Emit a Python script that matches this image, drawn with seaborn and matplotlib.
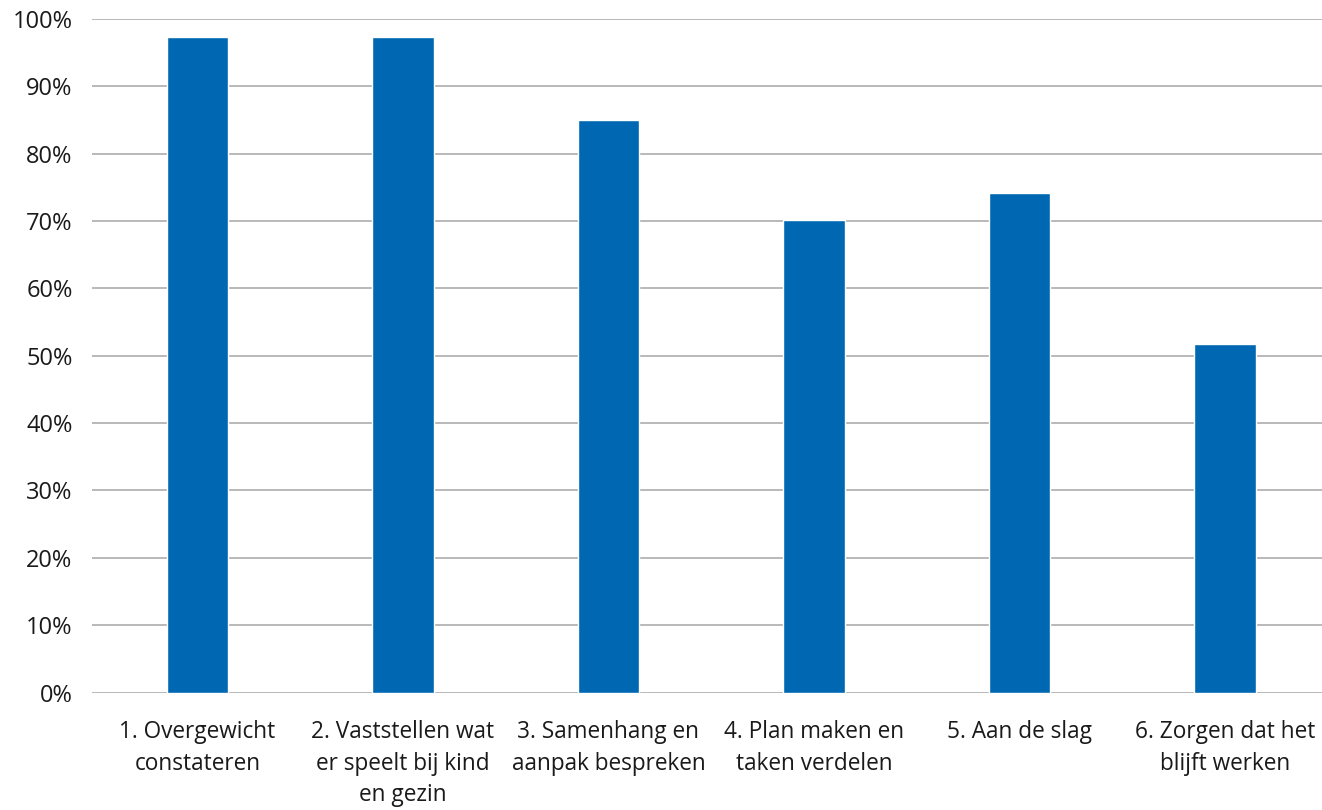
import pandas as pd
import matplotlib
matplotlib.use("Agg")
import matplotlib.pyplot as plt
import seaborn as sns
from matplotlib.ticker import PercentFormatter

# Data
stappen = [
    "1. Overgewicht\nconstateren",
    "2. Vaststellen wat\ner speelt bij kind\nen gezin",
    "3. Samenhang en\naanpak bespreken",
    "4. Plan maken en\ntaken verdelen",
    "5. Aan de slag",
    "6. Zorgen dat het\nblijft werken",
]
percentages = [0.973, 0.973, 0.850, 0.702, 0.741, 0.518]
y_ticks = [0, 0.1, 0.2, 0.3, 0.4, 0.5, 0.6, 0.7, 0.8, 0.9, 1.0]

df = pd.DataFrame({"stap": stappen, "pct": percentages})

sns.set_style("white")
plt.rcParams["font.family"] = ["Open Sans", "DejaVu Sans"]

fig = plt.figure(figsize=(13.22, 8.10), dpi=100)
ax = fig.add_axes([92 / 1322, (810 - 692.5) / 810, 1230 / 1322, (692.5 - 19) / 810])

sns.barplot(data=df, x="stap", y="pct", color="#0068b3", width=0.3,
            saturation=1, ax=ax, zorder=3)

ax.set_xlim(-0.513, 5.472)
ax.set_ylim(0, 1.0)
ax.set_yticks(y_ticks)
ax.yaxis.set_major_formatter(PercentFormatter(1.0, decimals=0))
ax.grid(axis="y", color="#b3b3b3", linewidth=1.3, zorder=0)
ax.set_axisbelow(True)
for side in ["top", "right", "left", "bottom"]:
    ax.spines[side].set_visible(False)

ax.set_xlabel("")
ax.set_ylabel("")
ax.tick_params(axis="y", length=0, pad=14, labelsize=17, labelcolor="#1a1a1a")
ax.tick_params(axis="x", length=0, pad=20, labelsize=16.3, labelcolor="#1a1a1a")
for lbl in ax.get_xticklabels():
    lbl.set_linespacing(1.42)

fig.savefig("out.png", dpi=100)
